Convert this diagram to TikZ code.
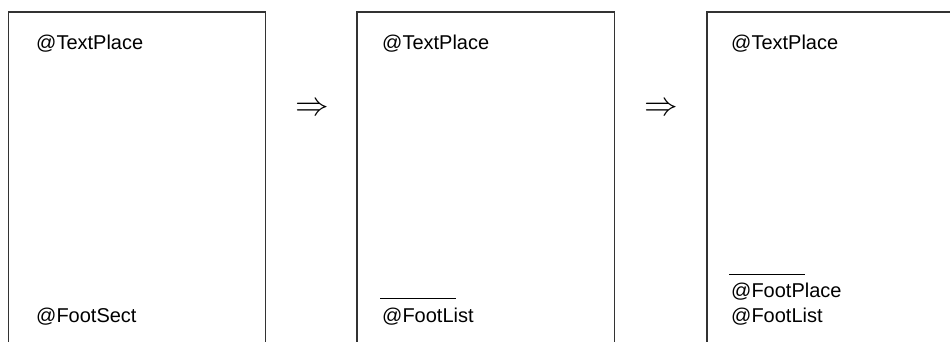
\documentclass[tikz,border=0pt]{standalone}
\usepackage{fontspec}
\setmainfont{Liberation Sans}
\usetikzlibrary{positioning}

\begin{document}
\begin{tikzpicture}[x=1pt, y=1pt,
    page/.style = {line width=1.2pt, draw=black!80},
    lbl/.style = {anchor=base west, inner sep=0pt, font=\fontsize{20}{24}\selectfont},
    arr/.style = {inner sep=0pt, font=\fontsize{24.88}{28}\selectfont},
    rule/.style = {line width=0.9pt}]
    \clip (0,0) rectangle (950,341);
    % the three pages, open at the bottom
    \draw[page] (8.5,-5) -- (8.5,329) -- (265.5,329) -- (265.5,-5);
    \draw[page] (357,-5) -- (357,329) -- (614.5,329) -- (614.5,-5);
    \draw[page] (707,-5) -- (707,329) -- (964,329) -- (964,-5);
    % first page
    \node[lbl] (tp1) at (36,291) {@TextPlace};
    \node[lbl] (fs1) at (36,19) {@FootSect};
    \node[arr] (a1) at (312,232) {\scalebox{1.35}{$\Rightarrow$}};
    % second page
    \node[lbl] (tp2) at (382,291) {@TextPlace};
    \node[lbl] (fl2) at (382,19) {@FootList};
    \draw[rule] (380,43) -- (456,43);
    \node[arr] (a2) at (661,232) {\scalebox{1.35}{$\Rightarrow$}};
    % third page
    \node[lbl] (tp3) at (731,291) {@TextPlace};
    \node[lbl] (fp3) at (731,44) {@FootPlace};
    \node[lbl] (fl3) at (731,19) {@FootList};
    \draw[rule] (729,67) -- (805,67);
\end{tikzpicture}
\end{document}
